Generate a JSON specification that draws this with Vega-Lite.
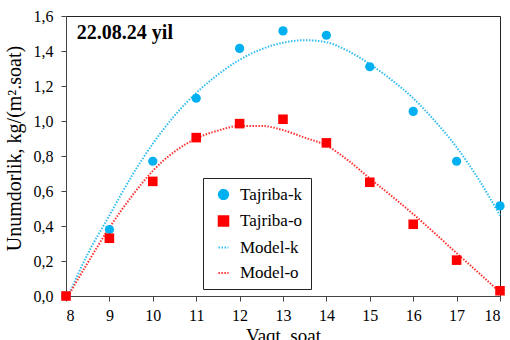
{
  "$schema": "https://vega.github.io/schema/vega-lite/v6.json",
  "autosize": {"type": "none"},
  "width": 434,
  "height": 280,
  "padding": {"left": 66, "top": 16, "right": 10, "bottom": 44},
  "background": "white",
  "config": {
    "font": "Liberation Serif, Times New Roman, Tinos, serif",
    "view": {"stroke": "#222", "strokeWidth": 1},
    "axis": {
      "grid": false,
      "domainColor": "#444",
      "tickColor": "#444",
      "labelColor": "#000",
      "titleColor": "#000",
      "labelFont": "Liberation Serif, Times New Roman, Tinos, serif",
      "titleFont": "Liberation Serif, Times New Roman, Tinos, serif",
      "labelFontSize": 16,
      "titleFontSize": 19,
      "titleFontWeight": "normal",
      "tickSize": 5
    },
    "legend": {
      "orient": "none",
      "legendX": 137,
      "legendY": 162,
      "strokeColor": "#222",
      "fillColor": "white",
      "padding": 8,
      "labelFont": "Liberation Serif, Times New Roman, Tinos, serif",
      "labelFontSize": 17,
      "labelColor": "#000",
      "symbolOffset": 4,
      "labelOffset": 8,
      "rowPadding": 7.5,
      "symbolStrokeWidth": 2,
      "symbolOpacity": 1
    }
  },
  "datasets": {
    "pts": [
      {"series": "Tajriba-k", "x": 8, "y": 0.0},
      {"series": "Tajriba-k", "x": 9, "y": 0.38},
      {"series": "Tajriba-k", "x": 10, "y": 0.77},
      {"series": "Tajriba-k", "x": 11, "y": 1.13},
      {"series": "Tajriba-k", "x": 12, "y": 1.415},
      {"series": "Tajriba-k", "x": 13, "y": 1.515},
      {"series": "Tajriba-k", "x": 14, "y": 1.49},
      {"series": "Tajriba-k", "x": 15, "y": 1.31},
      {"series": "Tajriba-k", "x": 16, "y": 1.055},
      {"series": "Tajriba-k", "x": 17, "y": 0.77},
      {"series": "Tajriba-k", "x": 18, "y": 0.515},
      {"series": "Tajriba-o", "x": 8, "y": 0.0},
      {"series": "Tajriba-o", "x": 9, "y": 0.33},
      {"series": "Tajriba-o", "x": 10, "y": 0.655},
      {"series": "Tajriba-o", "x": 11, "y": 0.905},
      {"series": "Tajriba-o", "x": 12, "y": 0.985},
      {"series": "Tajriba-o", "x": 13, "y": 1.01},
      {"series": "Tajriba-o", "x": 14, "y": 0.875},
      {"series": "Tajriba-o", "x": 15, "y": 0.65},
      {"series": "Tajriba-o", "x": 16, "y": 0.41},
      {"series": "Tajriba-o", "x": 17, "y": 0.205},
      {"series": "Tajriba-o", "x": 18, "y": 0.03}
    ],
    "model": [
      {"series": "Model-k", "x": 8.05, "y": 0.0},
      {"series": "Model-k", "x": 8.5, "y": 0.24},
      {"series": "Model-k", "x": 9, "y": 0.46},
      {"series": "Model-k", "x": 9.5, "y": 0.68},
      {"series": "Model-k", "x": 10, "y": 0.87},
      {"series": "Model-k", "x": 10.5, "y": 1.03},
      {"series": "Model-k", "x": 11, "y": 1.16},
      {"series": "Model-k", "x": 11.5, "y": 1.265},
      {"series": "Model-k", "x": 12, "y": 1.35},
      {"series": "Model-k", "x": 12.5, "y": 1.41},
      {"series": "Model-k", "x": 13, "y": 1.447},
      {"series": "Model-k", "x": 13.5, "y": 1.462},
      {"series": "Model-k", "x": 14, "y": 1.45},
      {"series": "Model-k", "x": 14.5, "y": 1.4},
      {"series": "Model-k", "x": 15, "y": 1.325},
      {"series": "Model-k", "x": 15.5, "y": 1.235},
      {"series": "Model-k", "x": 16, "y": 1.13},
      {"series": "Model-k", "x": 16.5, "y": 1.0},
      {"series": "Model-k", "x": 17, "y": 0.85},
      {"series": "Model-k", "x": 17.5, "y": 0.67},
      {"series": "Model-k", "x": 18, "y": 0.46},
      {"series": "Model-o", "x": 8.05, "y": 0.0},
      {"series": "Model-o", "x": 8.5, "y": 0.19},
      {"series": "Model-o", "x": 9, "y": 0.39},
      {"series": "Model-o", "x": 9.5, "y": 0.565},
      {"series": "Model-o", "x": 10, "y": 0.715},
      {"series": "Model-o", "x": 10.5, "y": 0.825},
      {"series": "Model-o", "x": 11, "y": 0.9},
      {"series": "Model-o", "x": 11.5, "y": 0.945},
      {"series": "Model-o", "x": 12, "y": 0.972},
      {"series": "Model-o", "x": 12.5, "y": 0.972},
      {"series": "Model-o", "x": 13, "y": 0.948},
      {"series": "Model-o", "x": 13.5, "y": 0.905},
      {"series": "Model-o", "x": 14, "y": 0.86},
      {"series": "Model-o", "x": 14.5, "y": 0.775},
      {"series": "Model-o", "x": 15, "y": 0.672},
      {"series": "Model-o", "x": 15.5, "y": 0.572},
      {"series": "Model-o", "x": 16, "y": 0.468},
      {"series": "Model-o", "x": 16.5, "y": 0.358},
      {"series": "Model-o", "x": 17, "y": 0.245},
      {"series": "Model-o", "x": 17.5, "y": 0.135},
      {"series": "Model-o", "x": 18, "y": 0.02}
    ]
  },
  "layer": [
    {
      "data": {"name": "model"},
      "mark": {"type": "line", "interpolate": "monotone", "strokeWidth": 2},
      "encoding": {
        "x": {"field": "x", "type": "quantitative", "scale": {"domain": [8, 18], "nice": false, "zero": false},
          "axis": {"title": "Vaqt, soat", "values": [8,9,10,11,12,13,14,15,16,17,18], "labelPadding": 6, "titlePadding": 3}},
        "y": {"field": "y", "type": "quantitative", "scale": {"domain": [0, 1.6], "nice": false},
          "axis": {"title": "Unumdorlik, kg/(m².soat)", "values": [0,0.2,0.4,0.6,0.8,1.0,1.2,1.4,1.6], "labelExpr": "replace(format(datum.value, '.1f'), '.', ',')", "labelPadding": 8, "titlePadding": 9, "titleFontSize": 20, "titleY": 132}},
        "color": {"field": "series", "type": "nominal", "title": null,
          "scale": {"domain": ["Tajriba-k", "Tajriba-o", "Model-k", "Model-o"], "range": ["#00B0F0", "#FF0000", "#33BDF2", "#FF3333"]}},
        "strokeDash": {"field": "series", "type": "nominal", "title": null,
          "scale": {"domain": ["Tajriba-k", "Tajriba-o", "Model-k", "Model-o"], "range": [[1, 0], [1, 0], [1.5, 1.5], [1.5, 1.5]]}}
      }
    },
    {
      "data": {"name": "pts"},
      "mark": {"type": "point", "filled": true, "opacity": 1, "clip": false},
      "encoding": {
        "x": {"field": "x", "type": "quantitative",
          "axis": {"title": "Vaqt, soat", "values": [8,9,10,11,12,13,14,15,16,17,18], "labelPadding": 6, "titlePadding": 3}},
        "y": {"field": "y", "type": "quantitative",
          "axis": {"title": "Unumdorlik, kg/(m².soat)", "values": [0,0.2,0.4,0.6,0.8,1.0,1.2,1.4,1.6], "labelExpr": "replace(format(datum.value, '.1f'), '.', ',')", "labelPadding": 8, "titlePadding": 9, "titleFontSize": 20, "titleY": 132}},
        "color": {"field": "series", "type": "nominal", "title": null},
        "shape": {"field": "series", "type": "nominal", "title": null,
          "scale": {"domain": ["Tajriba-k", "Tajriba-o", "Model-k", "Model-o"], "range": ["circle", "square", "stroke", "stroke"]}},
        "size": {"field": "series", "type": "nominal", "title": null,
          "scale": {"domain": ["Tajriba-k", "Tajriba-o", "Model-k", "Model-o"], "range": [85, 105, 625, 625]}}
      }
    },
    {
      "data": {"values": [{"label": "22.08.24 yil"}]},
      "mark": {"type": "text", "font": "Liberation Serif, Times New Roman, Tinos, serif", "fontSize": 20, "fontWeight": "bold", "align": "left", "baseline": "alphabetic", "color": "#000"},
      "encoding": {
        "text": {"field": "label"},
        "x": {"datum": 8.25, "type": "quantitative",
          "axis": {"title": "Vaqt, soat", "values": [8,9,10,11,12,13,14,15,16,17,18], "labelPadding": 6, "titlePadding": 3}},
        "y": {"datum": 1.47, "type": "quantitative",
          "axis": {"title": "Unumdorlik, kg/(m².soat)", "values": [0,0.2,0.4,0.6,0.8,1.0,1.2,1.4,1.6], "labelExpr": "replace(format(datum.value, '.1f'), '.', ',')", "labelPadding": 8, "titlePadding": 9, "titleFontSize": 20, "titleY": 132}}
      }
    }
  ]
}
